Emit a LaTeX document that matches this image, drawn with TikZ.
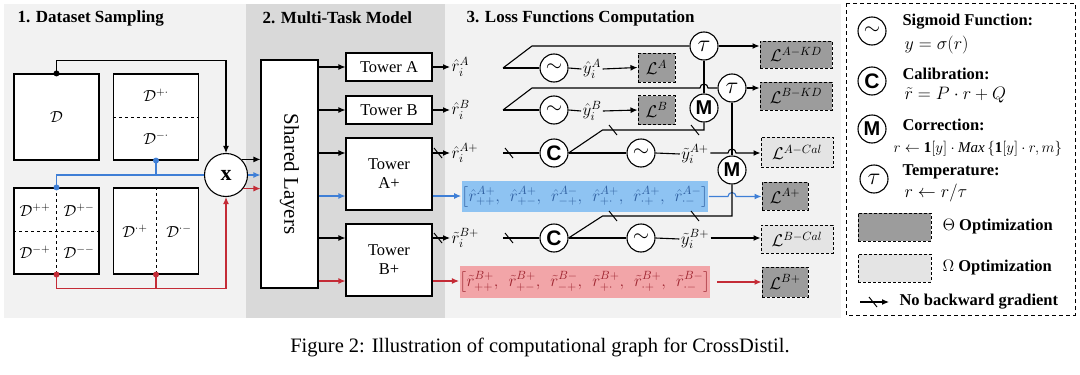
\RequirePackage{fix-cm}
\documentclass[tikz,border=0pt]{standalone}
\usepackage{amsmath,amssymb}
\usepackage{fontspec}
\setmainfont{Liberation Serif}
\newfontfamily\arialf{Liberation Sans}
\usetikzlibrary{arrows.meta,calc}
\definecolor{panel}{HTML}{F2F2F2}
\definecolor{panelmid}{HTML}{D9D9D9}
\definecolor{lossdark}{HTML}{9C9C9C}
\definecolor{losslight}{HTML}{E4E4E4}
\definecolor{cblue}{HTML}{3F7FD6}
\definecolor{cred}{HTML}{C42B36}
\definecolor{bluefill}{HTML}{8EC3F2}
\definecolor{redfill}{HTML}{F2A5A8}
\definecolor{bluetext}{HTML}{2F5FA0}
\definecolor{redtext}{HTML}{9E2530}
\newcommand{\sigsym}{{\fontsize{21}{21}\selectfont$\sim$}}
\newcommand{\Csym}{{\arialf\bfseries\fontsize{21}{21}\selectfont C}}
\newcommand{\Msym}{{\arialf\bfseries\fontsize{20}{20}\selectfont M}}
\newcommand{\tausym}{{\fontsize{24}{24}\selectfont$\tau$}}
\newcommand{\nbg}[1]{\draw[line width=1pt] ($(#1)+(-4,-5)$) -- ($(#1)+(4,5)$);}
\tikzset{
 box/.style={draw, fill=white, line width=1.1pt, inner sep=0pt},
 dbox/.style={box, minimum width=85pt, minimum height=86pt, font=\fontsize{16}{19}\selectfont},
 tower/.style={box, minimum width=86pt, font=\fontsize{16.5}{19}\selectfont, align=center},
 op/.style={circle, draw, fill=white, line width=1.1pt, minimum size=28pt, inner sep=0pt},
 lab/.style={inner sep=1pt, font=\fontsize{17}{19}\selectfont},
 dm/.style={inner sep=0pt, font=\fontsize{16}{19}\selectfont},
 lossd/.style={draw, dash pattern=on 3pt off 2pt, fill=lossdark, line width=1pt, inner sep=0pt, font=\fontsize{17}{19}\selectfont},
 lossl/.style={lossd, fill=losslight},
 title/.style={anchor=west, font=\fontsize{17}{19}\selectfont\bfseries, inner sep=0pt},
 legh/.style={anchor=west, font=\fontsize{16.5}{19}\selectfont\bfseries, inner sep=0pt},
 legf/.style={anchor=west, font=\fontsize{18}{20}\selectfont, inner sep=0pt},
 dot/.style={circle, fill, inner sep=0pt, minimum size=6pt},
 vec/.style={inner sep=0pt, minimum width=246pt, font=\fontsize{17}{19}\selectfont},
}
\begin{document}
\begin{tikzpicture}[x=1pt,y=-1pt,line width=1.1pt,>={Latex[length=7pt,width=6pt]}]
\useasboundingbox (0,0) rectangle (1080,375);
\fill[white] (0,0) rectangle (1080,375);
\fill[panel] (4,4) rectangle (246,318);
\fill[panelmid] (246,4) rectangle (445,318);
\fill[panel] (445,4) rectangle (841,318);
\draw[line width=1pt, dash pattern=on 4pt off 3pt, fill=white] (846,3) rectangle (1075,315);

% titles
\node[title] (ti1) at (17,18) {1. Dataset Sampling};
\node[title] (ti2) at (262,18) {2. Multi-Task Model};
\node[title] (ti3) at (466,18) {3. Loss Functions Computation};

% dataset boxes
\node[dbox] (D) at (56.5,117) {$\mathcal{D}$};
\node[dbox] (Dpm) at (156,117) {};
\node[dbox] (Dq) at (56.5,231) {};
\node[dbox] (Dh) at (156,231) {};
\draw[line width=1pt, dashed] (Dpm.west) -- (Dpm.east);
\draw[line width=1pt, dashed] (Dq.north) -- (Dq.south);
\draw[line width=1pt, dashed] (Dq.west) -- (Dq.east);
\draw[line width=1pt, dashed] (Dh.north) -- (Dh.south);
\node[dm] (d1) at (156,95) {$\mathcal{D}^{+\cdot}$};
\node[dm] (d2) at (156,138) {$\mathcal{D}^{-\cdot}$};
\node[dm] (d3) at (35,210) {$\mathcal{D}^{++}$};
\node[dm] (d4) at (79,210) {$\mathcal{D}^{+-}$};
\node[dm] (d5) at (35,252) {$\mathcal{D}^{-+}$};
\node[dm] (d6) at (79,252) {$\mathcal{D}^{--}$};
\node[dm] (d7) at (135,231) {$\mathcal{D}^{\cdot+}$};
\node[dm] (d8) at (179,231) {$\mathcal{D}^{\cdot-}$};

\node[op, minimum size=43pt] (X) at (226,175) {\fontsize{22}{22}\selectfont\bfseries x};

\draw[->] (D.north) -- ++(0,-13) -| (X.north);
\node[dot] at (D.north) {};
\draw[cblue] (Dq.north) |- (X.west);
\draw[cblue] (Dpm.south) -- (Dpm.south |- X.west);
\node[dot, cblue] at (Dq.north) {};
\node[dot, cblue] at (Dpm.south) {};
\draw[cred,->] (Dq.south) -- ++(0,14) -| (X.south);
\draw[cred] (Dh.south) -- ++(0,14);
\node[dot, cred] at (Dq.south) {};
\node[dot, cred] at (Dh.south) {};

% shared layers and towers
\node[box, minimum width=57pt, minimum height=228pt] (SL) at (289.5,174) {};
\node[rotate=-90, font=\fontsize{21}{23}\selectfont] (SLt) at (SL.center) {Shared Layers};
\draw[->] (X.45) -- (X.45 -| SL.west);
\draw[cblue,->] (X.east) -- (X.east -| SL.west);
\draw[cred,->] (X.-38) -- (X.-38 -| SL.west);

\node[tower, minimum height=28pt] (TA) at (389,67) {Tower A};
\node[tower, minimum height=28pt] (TB) at (389,110) {Tower B};
\node[tower, minimum height=72pt] (TAp) at (389,174) {Tower\\A+};
\node[tower, minimum height=72pt] (TBp) at (389,260) {Tower\\B+};
\coordinate (ta1) at ($(TAp.west)+(0,-21)$);
\coordinate (ta2) at ($(TAp.west)+(0,22)$);
\coordinate (tb1) at ($(TBp.west)+(0,-22)$);
\coordinate (tb2) at ($(TBp.west)+(0,21)$);
\coordinate (ta1e) at ($(TAp.east)+(0,-21)$);
\coordinate (ta2e) at ($(TAp.east)+(0,22)$);
\coordinate (tb1e) at ($(TBp.east)+(0,-22)$);
\coordinate (tb2e) at ($(TBp.east)+(0,21)$);
\draw[->] (SL.east |- TA.west) -- (TA.west);
\draw[->] (SL.east |- TB.west) -- (TB.west);
\draw[->] (SL.east |- ta1) -- (ta1);
\draw[cblue,->] (SL.east |- ta2) -- (ta2);
\draw[->] (SL.east |- tb1) -- (tb1);
\draw[cred,->] (SL.east |- tb2) -- (tb2);

% tower outputs
\node[lab, anchor=west] (rA) at (450,67) {$\hat{r}_i^{A}$};
\node[lab, anchor=west] (rB) at (450,110) {$\hat{r}_i^{B}$};
\node[lab, anchor=west] (rAp) at (450,153) {$\hat{r}_i^{A+}$};
\node[lab, anchor=west] (rBp) at (450,238) {$\tilde{r}_i^{B+}$};
\draw[->] (TA.east) -- (rA.west);
\draw[->] (TB.east) -- (rB.west);
\draw[->] (ta1e) -- (rAp.west);
\nbg{438,153}
\draw[->] (tb1e) -- (rBp.west);
\nbg{438,238}

\node[vec, fill=bluefill, minimum height=31pt, text=bluetext] (BB) at (585,196.5)
 {$\big[\hat r^{A+}_{++},\ \,\hat r^{A+}_{+-},\ \,\hat r^{A-}_{-+},\ \,\hat r^{A+}_{+\cdot},\ \,\hat r^{A+}_{\cdot+},\ \,\hat r^{A-}_{\cdot-}\big]$};
\node[vec, fill=redfill, minimum height=32pt, text=redtext] (RB) at (585,282)
 {$\big[\tilde r^{B+}_{++},\ \,\tilde r^{B+}_{+-},\ \,\tilde r^{B-}_{-+},\ \,\tilde r^{B+}_{+\cdot},\ \,\tilde r^{B+}_{\cdot+},\ \,\tilde r^{B-}_{\cdot-}\big]$};
\draw[cblue,->] (ta2e) -- (BB.west |- ta2e);
\draw[cred,->] (tb2e) -- (RB.west |- tb2e);

% losses
\node[lossd, minimum width=37pt, minimum height=29pt] (LA) at (656.5,67.5) {$\mathcal{L}^{A}$};
\node[lossd, minimum width=37pt, minimum height=29pt] (LB) at (656.5,110) {$\mathcal{L}^{B}$};
\node[lossd, minimum width=72pt, minimum height=27pt] (LAKD) at (796,54.5) {$\mathcal{L}^{A-KD}$};
\node[lossd, minimum width=72pt, minimum height=28pt] (LBKD) at (796,96) {$\mathcal{L}^{B-KD}$};
\node[lossl, minimum width=72pt, minimum height=30pt] (LACal) at (797,152) {$\mathcal{L}^{A-Cal}$};
\node[lossd, minimum width=46pt, minimum height=28pt] (LAp) at (785,196) {$\mathcal{L}^{A+}$};
\node[lossl, minimum width=72pt, minimum height=28pt] (LBCal) at (797,239) {$\mathcal{L}^{B-Cal}$};
\node[lossd, minimum width=46pt, minimum height=30pt] (LBp) at (785,282) {$\mathcal{L}^{B+}$};

% operators
\node[op] (sA) at (554,68) {\sigsym};
\node[op] (sB) at (554,110) {\sigsym};
\node[op] (C1) at (554,153) {\Csym};
\node[op] (sAp) at (641,153) {\sigsym};
\node[op] (C2) at (554,238) {\Csym};
\node[op] (sBp) at (641,238) {\sigsym};
\node[op] (t1) at (704,46) {\tausym};
\node[op] (t2) at (732,88) {\tausym};
\node[op] (M1) at (704,108) {\Msym};
\node[op] (M2) at (732,170) {\Msym};

\node[lab] (yA) at (592,69) {$\hat{y}_i^{A}$};
\node[lab] (yB) at (592,111) {$\hat{y}_i^{B}$};
\node[lab] (yAp) at (695,154) {$\tilde{y}_i^{A+}$};
\node[lab] (yBp) at (695,239) {$\tilde{y}_i^{B+}$};

% row A
\coordinate (bA) at (503,68);
\draw (bA) -- (sA.west);
\draw (bA) -- ++(29,-22) -- (t1.west);
\draw (sA.east) -- (yA.west);
\draw[->] (yA.east) -- (LA.west);
\draw[->] (t1.east) -- (LAKD.west |- t1.east);
% row B
\coordinate (bB) at (503,110);
\draw (bB) -- (sB.west);
\draw (sB.east) -- (yB.west);
\draw[->] (yB.east) -- (LB.west);
\draw (bB) -- ++(29,-22) -- ($(M1.north |- t2.west)+(-4,0)$) arc[start angle=180,end angle=360,radius=4] -- (t2.west);
\draw[->] (t2.east) -- (LBKD.west |- t2.east);
\draw (M1.north) -- (t1.south);
\draw (t2.south) -- (M2.north);
% row A+
\coordinate (bAp) at (503,153);
\draw (bAp) -- (C1.west);
\nbg{509,153}
\draw (C1.east) -- (sAp.west);
\draw (sAp.east) -- (yAp.west);
\draw[->] (yAp.east |- C1.east) -- ($(M2.north |- C1.east)+(-4,0)$) arc[start angle=180,end angle=360,radius=4] -- (LACal.west |- C1.east);
\draw (C1.east) -- ++(34,-23) -| (M1.south);
\nbg{613,130}
\nbg{695,130}
% blue
\draw[cblue,->] (BB.east) -- ($(M2.south |- BB.east)+(-4,0)$) arc[start angle=180,end angle=360,radius=4] -- (LAp.west |- BB.east);
% row B+
\coordinate (bBp) at (503,238);
\draw (bBp) -- (C2.west);
\nbg{509,238}
\draw (C2.east) -- (sBp.west);
\draw (sBp.east) -- (yBp.west);
\draw[->] (yBp.east |- C2.east) -- (LBCal.west |- C2.east);
\draw (C2.east) -- ++(34,-22) -| (M2.south);
\nbg{613,216}
\nbg{695,216}
\draw[cred,->, shorten <=6pt] (RB.east) -- (LBp.west |- RB.east);

% legend
\node[op] (lsig) at (872,31) {\sigsym};
\node[op] (lC) at (872,81) {\Csym};
\node[op] (lM) at (872,129) {\Msym};
\node[op] (lT) at (874,179) {\tausym};
\node[legh] (h1) at (902,22) {Sigmoid Function:};
\node[legf] (f1) at (904,45) {$y=\sigma(r)$};
\node[legh] (h2) at (902,74) {Calibration:};
\node[legf] (f2) at (904,95) {$\tilde{r}=P\cdot r+Q$};
\node[legh] (h3) at (902,125) {Correction:};
\node[legf, font=\fontsize{15}{17}\selectfont] (f3) at (893,149) {$r\leftarrow \mathbf{1}[y]\cdot \mathit{Max}\left\{\mathbf{1}[y]\cdot r,m\right\}$};
\node[legh] (h4) at (902,172) {Temperature:};
\node[legf] (f4) at (904,193) {$r\leftarrow r/\tau$};
\node[lossd, minimum width=73pt, minimum height=28pt] (lgD) at (894.5,227) {};
\node[lossl, minimum width=73pt, minimum height=28pt] (lgL) at (894.5,268) {};
\node[legh] (h5) at (942,227) {$\Theta$ Optimization};
\node[legh] (h6) at (942,268) {$\Omega$ Optimization};
\coordinate (na) at (860,302);
\coordinate (nb) at (889,302);
\draw[->] (na) -- (nb);
\nbg{873,302}
\node[legh] (h7) at (899,302) {No backward gradient};

% caption
\node[font=\fontsize{20.5}{24}\selectfont] (cap) at (540,347) {Figure 2: Illustration of computational graph for CrossDistil.};
\end{tikzpicture}
\end{document}
